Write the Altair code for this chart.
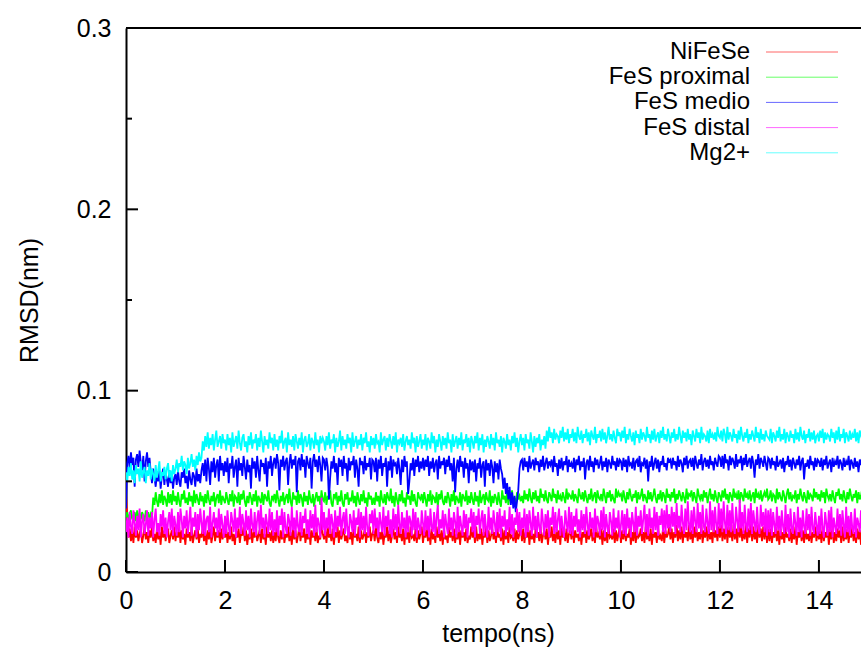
import altair as alt
import numpy as np
import pandas as pd

# Sampling step of the stored trajectory frames (ns)
DT = 0.025

series_names = ["NiFeSe", "FeS proximal", "FeS medio", "FeS distal", "Mg2+"]
series_colors = ["#ff0000", "#00ff00", "#0000ff", "#ff00ff", "#00ffff"]

x_tick_values = [0, 2, 4, 6, 8, 10, 12, 14]
y_tick_values = [0.0, 0.1, 0.2, 0.3]
y_minor_values = [0.05, 0.15, 0.25]

# RMSD values in units of 0.001 nm, one row per nanosecond (40 frames)
nifese = [
    44, 30, 19, 24, 17, 22, 16, 25, 19, 23, 17, 21, 24, 16, 20, 25, 18, 22, 16, 23, 19, 25, 17, 21, 16, 24, 18, 22, 15, 25, 19, 23, 17, 21, 24, 16, 20, 23, 18, 25,
    17, 22, 19, 25, 16, 23, 18, 21, 15, 24, 19, 22, 17, 25, 16, 20, 23, 18, 24, 16, 21, 19, 25, 17, 22, 15, 23, 18, 24, 16, 20, 25, 17, 22, 19, 23, 16, 24, 18, 21,
    19, 24, 16, 22, 18, 25, 17, 21, 15, 23, 19, 24, 16, 22, 20, 25, 17, 23, 15, 21, 18, 24, 16, 22, 19, 25, 17, 20, 23, 16, 24, 18, 21, 15, 25, 19, 22, 17, 23, 16,
    22, 17, 25, 19, 16, 23, 18, 24, 16, 21, 19, 25, 17, 22, 15, 24, 18, 23, 16, 20, 25, 17, 22, 19, 24, 16, 21, 18, 25, 15, 23, 19, 22, 17, 24, 16, 20, 18, 27, 21,
    18, 23, 16, 25, 19, 21, 17, 24, 15, 22, 19, 25, 16, 23, 18, 21, 24, 17, 20, 16, 25, 18, 22, 15, 24, 19, 21, 17, 25, 16, 23, 18, 20, 24, 16, 22, 19, 25, 17, 21,
    23, 17, 25, 19, 16, 22, 18, 24, 15, 21, 19, 25, 17, 23, 16, 20, 24, 18, 22, 16, 25, 19, 21, 17, 24, 15, 23, 18, 22, 16, 25, 19, 20, 17, 24, 16, 23, 18, 21, 25,
    16, 22, 19, 25, 17, 23, 15, 24, 18, 21, 16, 25, 19, 22, 17, 23, 15, 24, 18, 20, 16, 25, 19, 22, 17, 24, 16, 21, 18, 25, 15, 23, 19, 22, 17, 24, 16, 20, 18, 25,
    19, 23, 16, 25, 17, 21, 18, 24, 15, 22, 19, 25, 16, 23, 17, 20, 24, 18, 22, 16, 25, 19, 21, 17, 24, 15, 23, 18, 22, 16, 25, 19, 20, 17, 24, 16, 23, 18, 21, 25,
    17, 24, 16, 22, 19, 25, 15, 23, 18, 21, 16, 24, 19, 22, 17, 25, 16, 20, 23, 18, 24, 15, 22, 19, 25, 17, 21, 16, 24, 18, 23, 15, 25, 19, 22, 17, 24, 16, 21, 23,
    18, 25, 16, 23, 19, 21, 17, 24, 15, 22, 19, 25, 16, 23, 18, 20, 24, 17, 22, 16, 25, 19, 21, 18, 24, 15, 23, 17, 22, 16, 25, 19, 20, 18, 24, 16, 23, 17, 21, 25,
    16, 23, 18, 25, 17, 21, 19, 24, 15, 22, 17, 25, 16, 23, 19, 20, 24, 17, 22, 16, 25, 18, 21, 17, 24, 15, 23, 19, 22, 16, 25, 18, 20, 17, 24, 16, 23, 19, 21, 25,
    18, 24, 16, 22, 19, 26, 17, 23, 18, 25, 16, 24, 19, 22, 17, 26, 18, 23, 16, 25, 19, 24, 17, 22, 18, 26, 16, 23, 19, 25, 17, 24, 18, 22, 16, 26, 19, 23, 17, 25,
    19, 26, 17, 24, 18, 27, 16, 25, 19, 23, 17, 26, 18, 24, 16, 27, 19, 25, 17, 23, 18, 26, 16, 24, 19, 27, 17, 25, 18, 23, 16, 26, 19, 24, 17, 25, 18, 27, 16, 24,
    17, 24, 16, 22, 19, 25, 17, 23, 15, 24, 18, 22, 16, 25, 19, 21, 17, 24, 16, 23, 18, 25, 15, 22, 19, 24, 17, 23, 16, 25, 18, 21, 17, 24, 16, 22, 19, 25, 17, 23,
    18, 23, 16, 25, 17, 22, 19, 24, 15, 23, 18, 25, 16, 22, 17, 24, 19, 23, 16, 25, 17, 21, 18, 24, 16, 23, 19, 25, 17, 22, 16, 24, 18, 23, 15, 25, 19, 22, 17, 24,
]

fes_proximal = [
    30, 33, 28, 32, 34, 29, 31, 33, 28, 34, 30, 32, 29, 33, 31, 28, 34, 30, 33, 29, 32, 30, 41, 37, 44, 39, 36, 43, 38, 45, 37, 42, 40, 36, 44, 38, 43, 37, 45, 39,
    42, 37, 44, 39, 36, 43, 40, 45, 38, 41, 37, 44, 39, 42, 36, 45, 38, 43, 40, 37, 44, 39, 42, 36, 43, 38, 45, 40, 37, 42, 39, 44, 36, 41, 43, 38, 45, 37, 42, 40,
    38, 44, 40, 37, 43, 39, 45, 36, 42, 41, 38, 44, 37, 43, 40, 45, 39, 36, 42, 38, 44, 41, 37, 43, 39, 45, 36, 42, 40, 38, 44, 37, 43, 41, 39, 45, 38, 36, 42, 40,
    43, 38, 45, 40, 36, 42, 39, 44, 37, 41, 43, 38, 46, 39, 36, 44, 40, 42, 37, 45, 38, 43, 41, 36, 44, 39, 42, 37, 45, 40, 38, 43, 36, 41, 44, 39, 42, 37, 45, 40,
    39, 44, 37, 42, 40, 45, 38, 36, 43, 41, 44, 37, 42, 39, 45, 38, 36, 43, 40, 44, 37, 41, 39, 45, 38, 42, 36, 44, 40, 37, 43, 39, 45, 38, 41, 36, 44, 40, 42, 37,
    41, 37, 44, 39, 42, 36, 45, 40, 38, 43, 37, 44, 41, 39, 46, 38, 42, 36, 44, 40, 37, 43, 39, 45, 38, 41, 36, 44, 40, 42, 37, 45, 39, 43, 38, 36, 44, 41, 40, 43,
    38, 44, 40, 36, 43, 39, 45, 37, 42, 41, 38, 44, 36, 43, 40, 45, 39, 37, 42, 38, 44, 41, 36, 43, 39, 45, 37, 42, 40, 38, 44, 36, 43, 41, 39, 45, 37, 42, 38, 44,
    40, 37, 44, 39, 42, 36, 45, 38, 41, 43, 37, 44, 40, 39, 45, 36, 42, 38, 43, 41, 37, 44, 39, 36, 45, 40, 42, 38, 44, 37, 43, 39, 45, 38, 41, 36, 44, 40, 42, 39,
    42, 38, 45, 40, 43, 39, 46, 41, 38, 44, 40, 45, 39, 42, 38, 46, 41, 43, 39, 45, 40, 38, 44, 42, 39, 46, 41, 43, 38, 45, 40, 42, 39, 44, 41, 38, 46, 40, 43, 42,
    40, 45, 39, 43, 41, 38, 46, 42, 40, 44, 39, 45, 41, 38, 43, 40, 46, 39, 42, 44, 38, 45, 41, 40, 43, 39, 46, 42, 38, 44, 41, 45, 39, 43, 40, 38, 46, 41, 44, 42,
    43, 39, 45, 41, 38, 44, 40, 46, 42, 39, 43, 41, 45, 38, 44, 40, 42, 46, 39, 43, 41, 38, 45, 40, 44, 39, 42, 46, 41, 38, 43, 40, 45, 39, 44, 42, 38, 46, 41, 43,
    39, 44, 41, 46, 38, 43, 40, 45, 42, 39, 44, 41, 38, 46, 40, 43, 42, 45, 39, 44, 41, 38, 46, 42, 40, 43, 39, 45, 41, 44, 38, 42, 46, 40, 43, 39, 45, 41, 38, 44,
    42, 39, 45, 41, 46, 40, 43, 38, 44, 42, 39, 46, 41, 43, 40, 45, 38, 44, 42, 39, 46, 41, 43, 40, 45, 39, 42, 44, 38, 46, 41, 43, 40, 45, 39, 42, 44, 41, 46, 40,
    41, 45, 39, 43, 42, 38, 46, 40, 44, 41, 39, 45, 42, 38, 43, 46, 40, 44, 39, 42, 41, 45, 38, 43, 40, 46, 42, 39, 44, 41, 38, 45, 40, 43, 42, 39, 46, 41, 44, 40,
    43, 39, 45, 41, 44, 38, 46, 42, 40, 43, 39, 45, 41, 38, 44, 42, 46, 40, 43, 39, 45, 41, 38, 44, 40, 46, 42, 39, 43, 41, 45, 38, 44, 40, 42, 46, 39, 43, 41, 44,
]

fes_medio = [
    35, 60, 64, 57, 66, 59, 63, 47, 62, 65, 58, 67, 60, 56, 64, 50, 61, 66, 58, 63, 55, 49, 57, 52, 47, 54, 50, 56, 46, 53, 57, 48, 55, 51, 47, 56, 49, 54, 46, 52,
    54, 48, 56, 50, 47, 55, 52, 57, 49, 53, 46, 56, 51, 48, 55, 53, 47, 57, 50, 54, 49, 56, 60, 53, 62, 50, 63, 57, 48, 61, 55, 63, 52, 59, 62, 50, 64, 56, 60, 53,
    61, 55, 63, 49, 60, 57, 64, 52, 58, 62, 47, 63, 56, 60, 53, 64, 58, 51, 62, 55, 59, 46, 63, 57, 61, 52, 64, 56, 50, 62, 58, 60, 54, 63, 47, 61, 57, 64, 53, 60,
    63, 57, 65, 60, 45, 62, 58, 64, 56, 61, 63, 48, 60, 65, 57, 62, 59, 64, 44, 61, 63, 56, 65, 58, 62, 52, 64, 60, 57, 63, 46, 61, 65, 58, 62, 55, 64, 59, 50, 63,
    62, 56, 63, 58, 40, 52, 61, 57, 64, 55, 60, 48, 63, 58, 62, 53, 64, 57, 60, 50, 63, 56, 61, 59, 64, 52, 62, 57, 47, 63, 59, 61, 54, 64, 56, 60, 58, 63, 51, 62,
    61, 55, 63, 50, 62, 57, 64, 53, 60, 58, 63, 47, 61, 56, 64, 52, 62, 59, 60, 54, 63, 57, 48, 62, 55, 64, 58, 61, 43, 50, 60, 56, 63, 53, 62, 58, 64, 55, 61, 57,
    63, 56, 62, 58, 64, 53, 61, 57, 63, 55, 60, 62, 51, 64, 57, 61, 59, 63, 54, 62, 58, 64, 56, 60, 50, 63, 44, 57, 62, 55, 64, 58, 61, 52, 63, 57, 60, 49, 62, 56,
    61, 55, 62, 50, 60, 57, 63, 52, 59, 61, 47, 62, 56, 60, 53, 62, 58, 49, 61, 55, 60, 51, 62, 57, 54, 46, 52, 43, 49, 40, 47, 37, 44, 35, 42, 33, 39, 45, 57, 61,
    62, 56, 63, 58, 61, 55, 64, 57, 60, 62, 56, 63, 59, 61, 55, 62, 58, 64, 56, 60, 63, 57, 61, 59, 62, 55, 64, 58, 60, 53, 62, 57, 63, 56, 61, 59, 64, 55, 62, 58,
    60, 57, 63, 55, 62, 59, 64, 56, 61, 58, 63, 51, 60, 62, 56, 64, 58, 61, 55, 63, 59, 62, 57, 60, 64, 56, 61, 58, 63, 55, 62, 60, 57, 64, 59, 61, 56, 63, 58, 62,
    61, 56, 63, 58, 62, 55, 64, 59, 60, 57, 63, 56, 61, 62, 58, 64, 55, 60, 59, 63, 57, 62, 50, 61, 58, 64, 56, 60, 63, 57, 62, 55, 61, 59, 64, 58, 60, 56, 63, 61,
    62, 57, 63, 59, 61, 56, 64, 58, 62, 60, 55, 63, 59, 64, 57, 61, 62, 58, 63, 56, 64, 60, 57, 62, 59, 65, 56, 61, 63, 58, 62, 57, 64, 59, 61, 56, 63, 60, 58, 64,
    63, 58, 64, 57, 65, 60, 62, 56, 64, 59, 63, 61, 57, 65, 58, 62, 60, 64, 56, 63, 59, 65, 58, 61, 63, 57, 64, 60, 52, 62, 59, 65, 57, 63, 61, 58, 64, 60, 56, 63,
    62, 57, 63, 59, 61, 56, 64, 58, 60, 62, 57, 63, 55, 61, 59, 64, 58, 62, 56, 63, 60, 57, 62, 59, 64, 56, 61, 63, 51, 60, 58, 62, 57, 64, 59, 61, 56, 63, 58, 62,
    61, 58, 63, 56, 62, 59, 64, 57, 60, 62, 55, 63, 58, 61, 59, 64, 57, 62, 60, 56, 63, 58, 61, 59, 64, 56, 62, 60, 57, 63, 58, 61, 55, 62, 59, 64, 57, 60, 58, 63,
]

fes_distal = [
    22, 30, 19, 33, 25, 21, 34, 27, 20, 31, 23, 35, 19, 28, 32, 21, 26, 34, 20, 30, 24, 33, 19, 29, 35, 22, 27, 20, 32, 25, 34, 21, 30, 19, 28, 33, 23, 35, 20, 31,
    26, 20, 33, 22, 35, 29, 19, 31, 24, 34, 21, 28, 36, 20, 30, 25, 33, 19, 32, 23, 35, 27, 21, 34, 20, 29, 31, 22, 36, 19, 27, 33, 24, 30, 20, 35, 22, 32, 26, 19,
    31, 21, 34, 25, 20, 33, 28, 22, 35, 19, 30, 24, 36, 21, 32, 27, 20, 34, 23, 31, 19, 35, 26, 22, 33, 20, 29, 34, 21, 37, 24, 30, 19, 32, 27, 21, 35, 23, 33, 20,
    29, 22, 34, 20, 31, 26, 35, 19, 33, 24, 21, 32, 28, 20, 36, 23, 30, 19, 34, 25, 22, 33, 20, 31, 27, 35, 21, 29, 19, 34, 24, 32, 20, 37, 22, 30, 26, 19, 41, 23,
    33, 20, 30, 24, 35, 21, 32, 27, 19, 34, 22, 31, 25, 36, 20, 29, 33, 21, 35, 23, 19, 32, 28, 22, 34, 20, 30, 26, 35, 19, 33, 23, 31, 21, 36, 24, 20, 32, 27, 34,
    21, 35, 24, 30, 19, 33, 27, 22, 36, 20, 31, 25, 34, 21, 29, 19, 35, 23, 32, 20, 37, 26, 21, 33, 24, 30, 19, 34, 22, 31, 28, 20, 35, 23, 33, 19, 30, 25, 21, 34,
    27, 20, 34, 23, 31, 19, 35, 25, 22, 33, 20, 30, 37, 21, 29, 24, 34, 19, 32, 26, 21, 35, 23, 30, 20, 33, 28, 19, 36, 22, 31, 25, 20, 34, 24, 32, 19, 30, 27, 35,
    22, 33, 19, 31, 26, 35, 21, 29, 34, 20, 32, 24, 19, 36, 23, 30, 21, 34, 27, 20, 33, 22, 35, 19, 31, 25, 34, 20, 29, 23, 36, 21, 32, 19, 30, 26, 35, 22, 33, 20,
    30, 24, 35, 19, 32, 22, 34, 27, 20, 36, 23, 31, 19, 33, 25, 21, 35, 28, 20, 32, 24, 34, 19, 30, 26, 36, 21, 33, 22, 29, 35, 20, 31, 24, 19, 34, 27, 22, 36, 21,
    33, 20, 31, 25, 35, 22, 29, 19, 34, 23, 32, 21, 36, 26, 20, 33, 24, 30, 19, 35, 22, 31, 27, 20, 34, 23, 36, 19, 32, 25, 21, 33, 28, 20, 35, 22, 30, 24, 34, 19,
    26, 34, 21, 32, 20, 35, 24, 30, 19, 33, 27, 22, 36, 20, 31, 25, 34, 21, 29, 37, 22, 32, 20, 35, 24, 30, 21, 36, 23, 33, 20, 31, 26, 35, 22, 34, 21, 37, 24, 32,
    22, 36, 25, 33, 21, 38, 24, 31, 22, 37, 27, 21, 35, 23, 39, 26, 22, 34, 21, 36, 28, 22, 38, 24, 33, 21, 37, 25, 22, 35, 27, 21, 39, 23, 34, 22, 36, 26, 21, 38,
    24, 35, 22, 39, 27, 21, 37, 23, 34, 22, 38, 25, 21, 36, 28, 22, 40, 24, 33, 21, 37, 26, 22, 35, 23, 38, 21, 34, 27, 22, 36, 24, 21, 37, 25, 33, 22, 35, 20, 34,
    22, 35, 20, 33, 26, 21, 36, 23, 31, 20, 34, 25, 21, 37, 22, 32, 19, 35, 24, 21, 33, 27, 20, 36, 22, 30, 19, 34, 25, 21, 35, 23, 32, 20, 36, 24, 21, 33, 26, 20,
    31, 21, 35, 24, 19, 33, 27, 20, 34, 22, 36, 19, 30, 25, 21, 35, 23, 32, 20, 34, 26, 19, 36, 22, 31, 20, 33, 24, 21, 35, 19, 30, 27, 22, 34, 20, 32, 23, 35, 21,
]

mg2 = [
    55, 50, 58, 53, 60, 51, 56, 49, 59, 54, 57, 50, 61, 52, 55, 58, 49, 56, 53, 60, 51, 57, 54, 50, 59, 52, 56, 61, 50, 55, 53, 58, 51, 57, 60, 52, 56, 50, 59, 54,
    57, 62, 55, 60, 58, 64, 56, 61, 59, 54, 63, 57, 60, 65, 58, 62, 56, 64, 59, 66, 61, 63, 72, 67, 75, 69, 77, 68, 74, 70, 76, 67, 73, 78, 69, 72, 75, 68, 76, 71,
    73, 67, 76, 70, 74, 66, 77, 69, 72, 75, 68, 78, 71, 67, 74, 76, 69, 72, 66, 75, 70, 77, 68, 73, 71, 76, 67, 74, 69, 78, 72, 66, 75, 70, 73, 68, 77, 71, 74, 67,
    76, 69, 73, 67, 75, 71, 78, 68, 72, 74, 66, 77, 70, 73, 69, 75, 67, 76, 72, 68, 74, 70, 77, 66, 73, 75, 69, 71, 76, 67, 74, 72, 68, 77, 70, 73, 66, 75, 71, 74,
    72, 67, 75, 70, 77, 68, 73, 71, 76, 66, 74, 69, 72, 78, 67, 75, 70, 73, 68, 76, 71, 74, 66, 77, 69, 72, 75, 68, 73, 70, 76, 67, 74, 71, 77, 69, 72, 66, 75, 70,
    74, 68, 76, 71, 72, 66, 77, 70, 73, 75, 67, 74, 69, 76, 72, 68, 75, 70, 77, 66, 73, 71, 74, 69, 76, 67, 72, 75, 70, 73, 68, 77, 71, 74, 66, 75, 69, 72, 76, 68,
    73, 70, 76, 67, 74, 72, 68, 77, 71, 75, 66, 73, 69, 76, 72, 67, 75, 70, 74, 68, 77, 71, 73, 66, 76, 69, 72, 75, 68, 74, 70, 77, 67, 73, 71, 76, 69, 74, 66, 75,
    72, 68, 75, 71, 77, 67, 74, 70, 76, 66, 73, 69, 75, 72, 68, 76, 70, 74, 67, 77, 71, 73, 69, 75, 66, 74, 72, 68, 76, 70, 73, 67, 75, 71, 77, 69, 74, 66, 72, 76,
    70, 74, 67, 76, 71, 73, 68, 77, 72, 66, 75, 69, 74, 71, 76, 67, 73, 70, 75, 68, 78, 72, 80, 74, 77, 71, 79, 73, 76, 75, 71, 78, 74, 80, 72, 77, 73, 79, 71, 76,
    74, 79, 72, 77, 71, 80, 75, 73, 78, 71, 76, 74, 79, 72, 77, 70, 78, 75, 73, 80, 71, 76, 74, 78, 72, 79, 73, 77, 71, 75, 80, 73, 76, 72, 78, 74, 71, 79, 75, 77,
    72, 78, 74, 80, 71, 76, 73, 79, 75, 72, 77, 70, 78, 74, 76, 71, 79, 73, 77, 75, 72, 80, 74, 76, 71, 78, 73, 79, 72, 75, 77, 71, 78, 74, 80, 73, 76, 72, 79, 75,
    71, 77, 74, 79, 72, 76, 73, 80, 75, 71, 78, 74, 77, 72, 79, 73, 76, 70, 78, 75, 72, 79, 74, 77, 71, 80, 73, 76, 75, 72, 78, 71, 79, 74, 76, 73, 77, 72, 80, 75,
    74, 78, 72, 79, 76, 71, 80, 73, 77, 75, 72, 79, 74, 76, 71, 78, 73, 80, 75, 72, 77, 74, 79, 71, 76, 73, 78, 75, 72, 80, 74, 77, 71, 79, 73, 76, 72, 78, 75, 74,
    73, 79, 71, 77, 75, 72, 78, 74, 80, 72, 76, 73, 79, 71, 77, 75, 72, 78, 74, 76, 71, 79, 73, 77, 72, 80, 75, 73, 78, 71, 76, 74, 79, 72, 77, 73, 78, 71, 75, 76,
    72, 78, 74, 79, 71, 77, 73, 76, 75, 72, 79, 74, 77, 71, 78, 73, 80, 72, 76, 74, 79, 71, 77, 75, 72, 78, 73, 76, 74, 79, 72, 77, 71, 78, 75, 73, 79, 72, 76, 74,
]

all_series = [nifese, fes_proximal, fes_medio, fes_distal, mg2]

FONT = "Liberation Sans"
FS = 25
LEGEND_FS = 24
PLOT_W, PLOT_H = 735, 544
X_MAX = 14.85

x_scale = alt.Scale(domain=[0, X_MAX], nice=False, zero=False)
y_scale = alt.Scale(domain=[0, 0.3], nice=False)

x_axis = alt.Axis(
    values=x_tick_values, ticks=False, grid=False,
    domainColor="black", domainWidth=2,
    labelFont=FONT, labelFontSize=FS, labelColor="black", labelPadding=16,
    labelFlush=False, labelOverlap=False,
    title="tempo(ns)", titleFont=FONT, titleFontSize=FS, titleFontWeight="normal",
    titleColor="black", titleX=372, titleY=69, titleAlign="center",
    titleBaseline="alphabetic",
)
y_axis = alt.Axis(
    values=y_tick_values, ticks=False, grid=False,
    domainColor="black", domainWidth=2,
    labelFont=FONT, labelFontSize=FS, labelColor="black", labelPadding=15,
    labelFlush=False, labelOverlap=False,
    labelExpr="datum.value == 0 ? '0' : format(datum.value, '.1f')",
    title="RMSD(nm)", titleFont=FONT, titleFontSize=FS, titleFontWeight="normal",
    titleColor="black", titleX=-89, titleY=272, titleAngle=270,
    titleAlign="center", titleBaseline="alphabetic",
)

X_ENC = dict(scale=x_scale, axis=x_axis)
Y_ENC = dict(scale=y_scale, axis=y_axis)


def trace(values):
    return pd.DataFrame({
        "t": np.arange(len(values)) * DT,
        "rmsd": np.array(values, dtype=float) / 1000.0,
    })


# Series drawn in order, so later ones sit on top of earlier ones
layers = []
for name, color, vals in zip(series_names, series_colors, all_series):
    layers.append(
        alt.Chart(trace(vals)).mark_line(color=color, strokeWidth=1.8, clip=True).encode(
            x=alt.X("t:Q", **X_ENC),
            y=alt.Y("rmsd:Q", **Y_ENC),
        )
    )

# Inward tick marks and the top border of the frame
x_ticks = alt.Chart(pd.DataFrame({"t": x_tick_values})).mark_rule(
    color="black", strokeWidth=2
).encode(x=alt.X("t:Q", **X_ENC), y=alt.value(PLOT_H), y2=alt.value(PLOT_H - 12))

y_ticks = alt.Chart(pd.DataFrame({"rmsd": y_tick_values})).mark_rule(
    color="black", strokeWidth=2
).encode(y=alt.Y("rmsd:Q", **Y_ENC), x=alt.value(0), x2=alt.value(12))

y_minor = alt.Chart(pd.DataFrame({"rmsd": y_minor_values})).mark_rule(
    color="black", strokeWidth=2
).encode(y=alt.Y("rmsd:Q", **Y_ENC), x=alt.value(0), x2=alt.value(6))

top_border = alt.Chart(pd.DataFrame({"k": [0]})).mark_rule(
    color="black", strokeWidth=2
).encode(x=alt.value(0), x2=alt.value(PLOT_W), y=alt.value(0))

# Key in the upper right corner: label, then a line sample
legend_layers = []
for i, (name, color) in enumerate(zip(series_names, series_colors)):
    row_y = 24 + 25.2 * i
    legend_layers.append(
        alt.Chart(pd.DataFrame({"label": [name]})).mark_text(
            font=FONT, fontSize=LEGEND_FS, color="black", align="right", baseline="middle"
        ).encode(text="label:N", x=alt.value(624), y=alt.value(row_y))
    )
    legend_layers.append(
        alt.Chart(pd.DataFrame({"label": [name]})).mark_rule(
            color=color, strokeWidth=1, opacity=0.6
        ).encode(x=alt.value(640), x2=alt.value(712), y=alt.value(row_y))
    )

chart = alt.layer(
    *layers, x_ticks, y_ticks, y_minor, top_border, *legend_layers
).properties(
    width=PLOT_W, height=PLOT_H,
    autosize=alt.AutoSizeParams(type="none"),
    padding={"left": 126, "top": 28, "right": 0, "bottom": 76},
    background="white",
).configure_view(stroke=None)

chart.save("out.html", embed_options={"renderer": "svg", "actions": False})
